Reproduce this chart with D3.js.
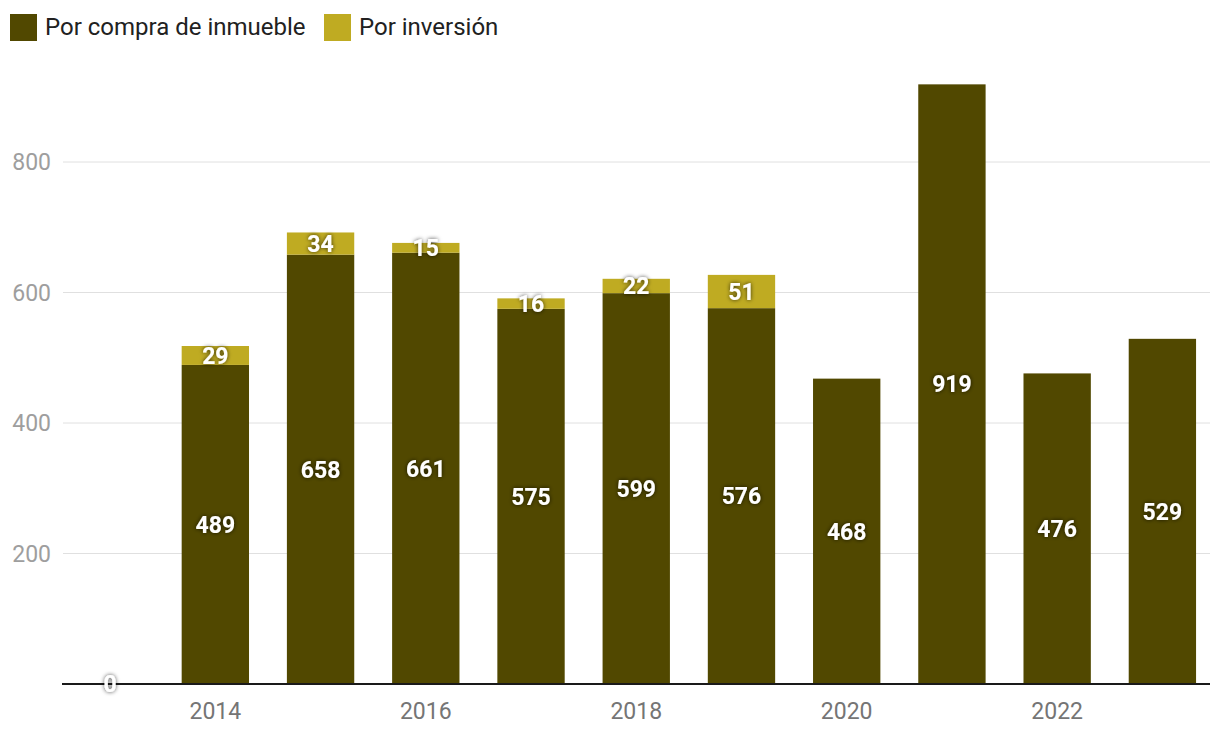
<!DOCTYPE html>
<html><head><meta charset="utf-8">
<script src="https://cdn.jsdelivr.net/npm/d3@7"></script>
<style>body{margin:0;background:#fff;font-family:Roboto,"Noto Sans",sans-serif;}</style>
</head><body>
<svg id="c" width="1220" height="742"></svg>
<script>
const years = ["2013","2014","2015","2016","2017","2018","2019","2020","2021","2022","2023"];
const compra = [0,489,658,661,575,599,576,468,919,476,529];
const inversion = [0,29,34,15,16,22,51,0,0,0,0];
const seriesNames = ["Por compra de inmueble","Por inversión"];
const seriesColors = ["#514800","#bfab22"];
const yTicks = [200,400,600,800];
const xTickLabels = ["2014","2016","2018","2020","2022"];

const svg = d3.select("#c");
const defs = svg.append("defs");
const f = defs.append("filter").attr("id","sh").attr("x","-50%").attr("y","-50%").attr("width","200%").attr("height","200%");
f.append("feDropShadow").attr("dx",0).attr("dy",0).attr("stdDeviation",2).attr("flood-color","#000").attr("flood-opacity",0.75);

const x = d3.scaleBand().domain(years).range([57.5,1215]).paddingInner(0.36).paddingOuter(0.18);
const y = d3.scaleLinear().domain([0,800]).range([684,162]);

// gridlines
svg.append("g").selectAll("line").data(yTicks).join("line")
  .attr("x1",63).attr("x2",1210).attr("y1",d=>y(d)).attr("y2",d=>y(d))
  .attr("stroke","#e0e0e0").attr("stroke-width",1);
svg.append("g").selectAll("text").data(yTicks).join("text")
  .attr("x",51).attr("y",d=>y(d)).attr("dy","0.35em").attr("text-anchor","end")
  .attr("font-size",23).attr("fill","#9e9e9e").text(d=>d);

const data = years.map((yr,i)=>({yr, a:compra[i], b:inversion[i]}));
const bw = x.bandwidth();
// bars
svg.append("g").selectAll("rect").data(data.filter(d=>d.a>0)).join("rect")
  .attr("x",d=>x(d.yr)).attr("width",bw).attr("y",d=>y(d.a)).attr("height",d=>y(0)-y(d.a))
  .attr("fill",seriesColors[0]);
svg.append("g").selectAll("rect").data(data.filter(d=>d.b>0)).join("rect")
  .attr("x",d=>x(d.yr)).attr("width",bw).attr("y",d=>y(d.a+d.b)).attr("height",d=>y(d.a)-y(d.a+d.b))
  .attr("fill",seriesColors[1]);

// axis line
svg.append("line").attr("x1",62).attr("x2",1210).attr("y1",684).attr("y2",684).attr("stroke","#1a1a1a").attr("stroke-width",2);

// x labels
svg.append("g").selectAll("text").data(xTickLabels).join("text")
  .attr("x",d=>x(d)+bw/2).attr("y",711).attr("dy","0.35em").attr("text-anchor","middle")
  .attr("font-size",23).attr("fill","#757575").text(d=>d);

// value labels
const lab = svg.append("g").attr("filter","url(#sh)").attr("font-size",23).attr("font-weight","bold").attr("fill","#fff").attr("text-anchor","middle");
lab.selectAll("text.a").data(data.filter(d=>d.a>0)).join("text").attr("class","a")
  .attr("x",d=>x(d.yr)+bw/2).attr("y",d=>(y(0)+y(d.a))/2).attr("dy","0.36em").text(d=>d.a);
lab.selectAll("text.b").data(data.filter(d=>d.b>0)).join("text").attr("class","b")
  .attr("x",d=>x(d.yr)+bw/2).attr("y",d=>(y(d.a)+y(d.a+d.b))/2).attr("dy","0.36em").text(d=>d.b);
lab.selectAll("text.z").data(data.filter(d=>d.a===0&&d.b===0)).join("text").attr("class","z")
  .attr("x",d=>x(d.yr)+bw/2).attr("y",684).attr("dy","0.36em").text("0");

// legend
const lg = svg.append("g");
const lx = [10,324];
seriesNames.forEach((n,i)=>{
  lg.append("rect").attr("x",lx[i]).attr("y",14).attr("width",27).attr("height",27).attr("fill",seriesColors[i]);
  lg.append("text").attr("x",lx[i]+35).attr("y",27).attr("dy","0.35em").attr("font-size",24).attr("fill","#212121").text(n);
});
</script>
</body></html>
